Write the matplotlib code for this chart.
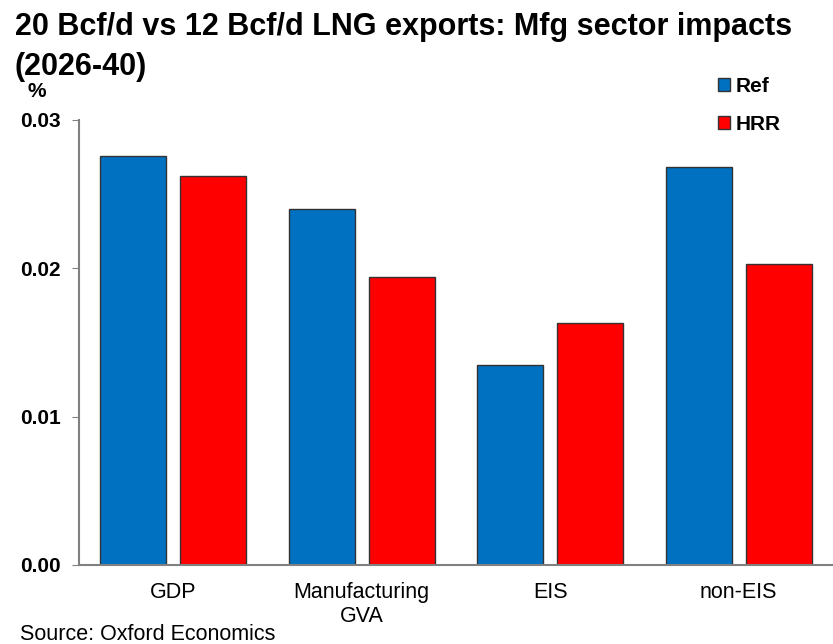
import matplotlib.pyplot as plt
import numpy as np

plt.rcParams['font.family'] = ['Liberation Sans', 'DejaVu Sans']

categories = ['GDP', 'Manufacturing\nGVA', 'EIS', 'non-EIS']
ref_vals = [0.0276, 0.0240, 0.0135, 0.0268]
hrr_vals = [0.0262, 0.0194, 0.0163, 0.0203]
series_names = ['Ref', 'HRR']
colors = ['#0070C0', '#FF0000']

W, H = 833, 644
fig = plt.figure(figsize=(W / 100, H / 100), dpi=100)
ax = fig.add_axes([79 / W, 1 - 565 / H, 754 / W, 445 / H])

x = np.arange(len(categories))
w = 0.35
off = 0.212
for vals, name, c, dx in zip([ref_vals, hrr_vals], series_names, colors, [-off, off]):
    ax.bar(x + dx, vals, w, color=c, edgecolor='#333333', linewidth=1, label=name)

ax.set_xlim(-0.5, len(categories) - 0.5)
ax.set_ylim(0, 0.03)
ax.set_yticks([0, 0.01, 0.02, 0.03])
ax.set_yticklabels(['0.00', '0.01', '0.02', '0.03'], fontsize=15, fontweight='bold')
ax.set_xticks(x)
ax.set_xticklabels(categories, fontsize=15.5, linespacing=1.2)
ax.tick_params(axis='x', length=0, pad=12)
ax.tick_params(axis='y', length=5, color='#808080', pad=8, direction='out')
for s in ['top', 'right']:
    ax.spines[s].set_visible(False)
for s in ['left', 'bottom']:
    ax.spines[s].set_color('#808080')
    ax.spines[s].set_linewidth(1.5)

fig.text(15 / W, 1 - 35 / H, '20 Bcf/d vs 12 Bcf/d LNG exports: Mfg sector impacts',
         fontsize=22, fontweight='bold', va='baseline', ha='left')
fig.text(15 / W, 1 - 75 / H, '(2026-40)',
         fontsize=22, fontweight='bold', va='baseline', ha='left')
fig.text(27 / W, 1 - 97 / H, '%', fontsize=15, fontweight='bold', va='baseline')
fig.text(20 / W, 1 - 640 / H, 'Source: Oxford Economics', fontsize=15.5, va='baseline')

leg = ax.legend(loc='upper left', bbox_to_anchor=(712 / W, 1 - 71 / H),
                bbox_transform=fig.transFigure, frameon=False, handlelength=0.58,
                handleheight=0.58, handletextpad=0.25, labelspacing=0.9,
                borderaxespad=0, borderpad=0.3,
                prop={'size': 15, 'weight': 'bold'})

fig.savefig('out.png', dpi=100)
